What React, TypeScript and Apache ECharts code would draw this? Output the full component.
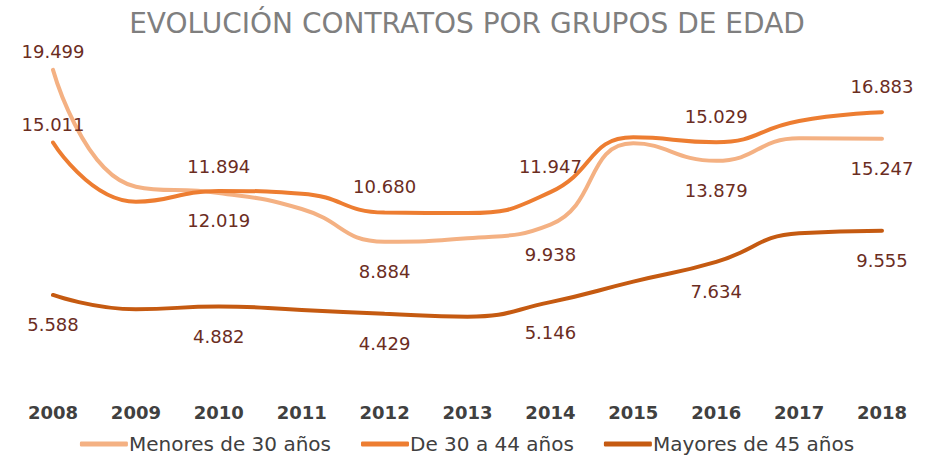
import React, { useEffect, useRef } from "react";
import * as echarts from "echarts";

const years = ["2008", "2009", "2010", "2011", "2012", "2013", "2014", "2015", "2016", "2017", "2018"];
const menores30 = [19499, 12280, 11894, 10900, 8884, 9090, 9938, 14960, 13879, 15270, 15247];
const de30a44 = [15011, 11350, 12019, 11850, 10680, 10650, 11947, 15330, 15029, 16340, 16883];
const mayores45 = [5588, 4700, 4882, 4660, 4429, 4250, 5146, 6410, 7634, 9400, 9555];
const seriesNames = ["Menores de 30 años", "De 30 a 44 años", "Mayores de 45 años"];
const title = "EVOLUCIÓN CONTRATOS POR GRUPOS DE EDAD";

// label placement per series: which points have label on top
const topLabels: boolean[][] = [
  [true, false, true, false, false, false, false, false, false, false, false],
  [true, false, false, false, true, false, true, false, true, false, true],
  [false, false, false, false, false, false, false, false, false, false, false],
];

const fmt = (v: number) => v.toString().replace(/\B(?=(\d{3})+(?!\d))/g, ".");

export default function App() {
  const ref = useRef<HTMLDivElement>(null);
  useEffect(() => {
    document.body.style.margin = "0";
    const chart = echarts.init(ref.current!, null, { renderer: "svg" });
    const colors = ["#F4B183", "#ED7D31", "#C55A11"];
    const all = [menores30, de30a44, mayores45];
    const series = all.map((arr, s) => ({
      name: seriesNames[s],
      type: "line",
      smooth: 0.5,
      symbol: "circle",
      symbolSize: 2,
      showSymbol: true,
      lineStyle: { width: 4, color: colors[s], cap: "round" },
      itemStyle: { color: "rgba(0,0,0,0)", borderWidth: 0 },
      labelLayout: { hideOverlap: false },
      data: arr.map((v, i) => {
        const top = topLabels[s][i];
        return {
          value: v,
          label: {
            show: i % 2 === 0,
            position: top ? "top" : "bottom",
            distance: top ? (i === 0 ? 8 : 16) : 20,
            formatter: fmt(v),
            color: "#6B2D1F",
            fontSize: 18,
            fontFamily: "DejaVu Sans",
          },
        };
      }),
    }));
    chart.setOption({
      animation: false,
      title: {
        text: title,
        left: "center",
        top: 4,
        textStyle: { fontFamily: "DejaVu Sans", fontSize: 28, fontWeight: "normal", color: "#7F7F7F" },
      },
      grid: { left: 53, right: 52, top: 29.4, bottom: 74.6 },
      xAxis: {
        type: "category",
        data: years,
        boundaryGap: false,
        axisLine: { show: false },
        axisTick: { show: false },
        axisLabel: { margin: 18, fontFamily: "DejaVu Sans", fontWeight: "bold", fontSize: 18, color: "#404040" },
        splitLine: { show: false },
      },
      yAxis: { type: "value", min: 0, max: 22000, show: false, splitLine: { show: false } },
      legend: {
        bottom: 1,
        left: "center",
        icon: "roundRect",
        itemWidth: 48,
        itemHeight: 5,
        itemGap: 30,
        textStyle: { fontFamily: "DejaVu Sans", fontSize: 20, color: "#404040", padding: [0, 0, 0, -4] },
        data: seriesNames.map((n, s) => ({ name: n, itemStyle: { color: colors[s] } })),
      },
      series,
    });
    return () => chart.dispose();
  }, []);
  return <div ref={ref} style={{ width: 934, height: 460 }} />;
}
